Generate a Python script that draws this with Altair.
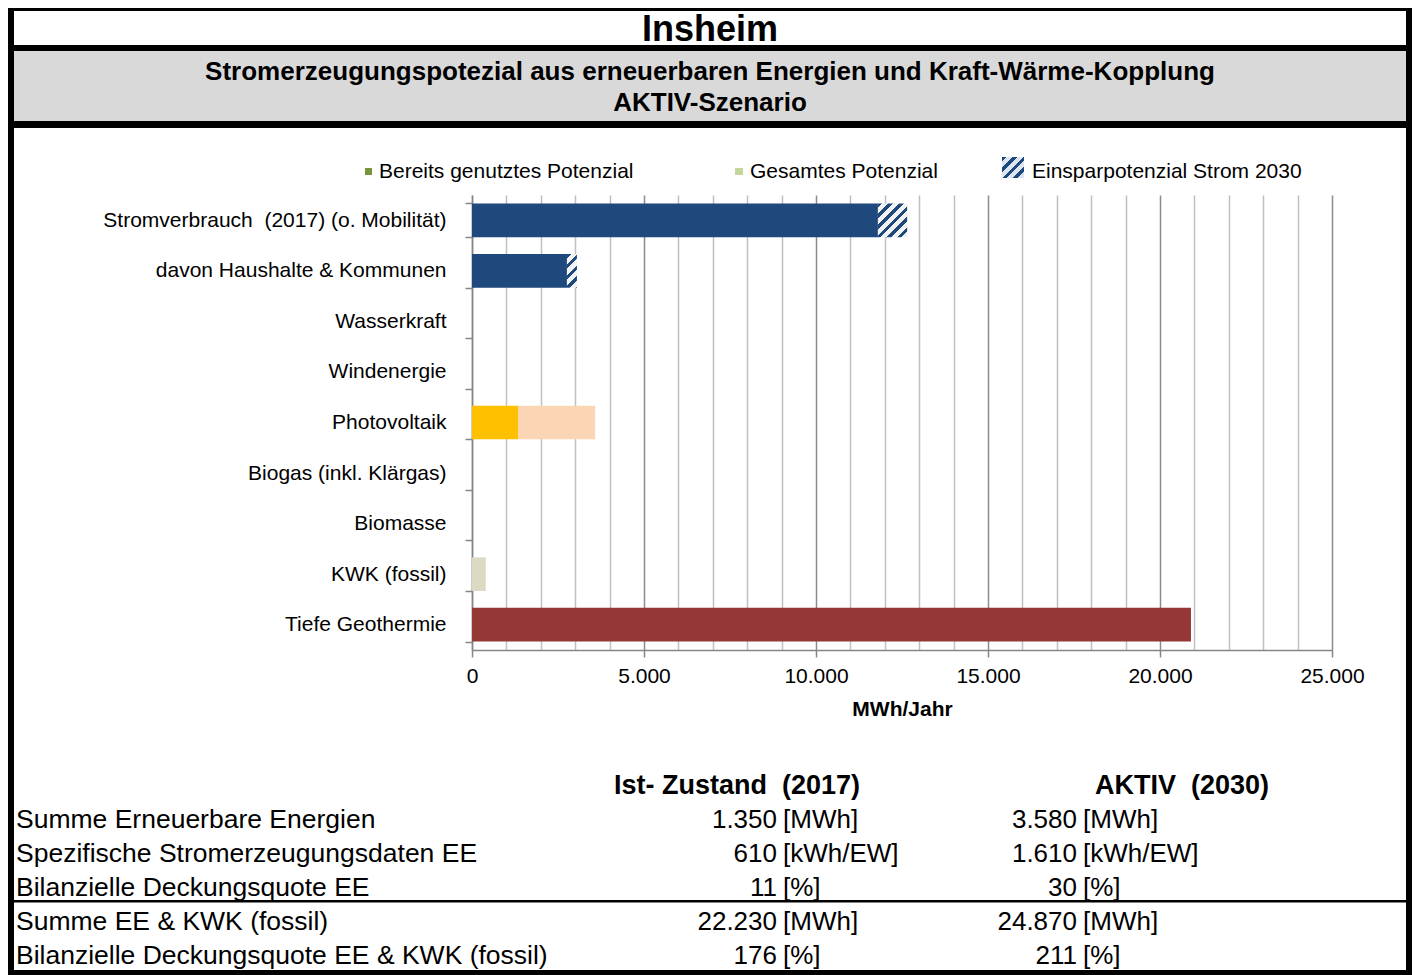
import altair as alt
import pandas as pd

# ---------------- data ----------------
TITLE = "Insheim"
SUBTITLE = ["Stromerzeugungspotezial aus erneuerbaren Energien und Kraft-Wärme-Kopplung", "AKTIV-Szenario"]

CATEGORIES = ["Stromverbrauch\u00a0 (2017) (o. Mobilität)", "davon Haushalte & Kommunen", "Wasserkraft",
              "Windenergie", "Photovoltaik", "Biogas (inkl. Klärgas)", "Biomasse", "KWK (fossil)",
              "Tiefe Geothermie"]
USED_VALUES = [11800, 2760, 0, 0, 1350, 0, 0, 400, 20900]
TOTAL_VALUES = [12650, 3050, 0, 0, 3580, 0, 0, 400, 20900]
USED_COLORS = ["#1F497D", "#1F497D", "#1F497D", "#1F497D", "#FFC000", "#9BBB59", "#9BBB59", "#DDD9C3", "#953735"]
EXTRA_COLORS = ["hatch", "hatch", None, None, "#FCD5B5", None, None, None, None]

LEGEND_LABELS = ["Bereits genutztes Potenzial", "Gesamtes Potenzial", "Einsparpotenzial Strom 2030"]
LEGEND_COLORS = ["#77933C", "#C3D69B"]

X_TICKS = list(range(0, 25001, 1000))
X_TITLE = "MWh/Jahr"

TABLE_HEADERS = ["Ist- Zustand\u00a0 (2017)", "AKTIV\u00a0 (2030)"]
TABLE_ROWS = ["Summe Erneuerbare Energien", "Spezifische Stromerzeugungsdaten EE", "Bilanzielle Deckungsquote EE",
              "Summe EE & KWK (fossil)", "Bilanzielle Deckungsquote EE & KWK (fossil)"]
IST_VALUES = [1350, 610, 11, 22230, 176]
AKTIV_VALUES = [3580, 1610, 30, 24870, 211]
UNITS = ["[MWh]", "[kWh/EW]", "[%]", "[MWh]", "[%]"]

# ---------------- layout ----------------
F = "Liberation Sans"
PW, PH = 860, 455          # plot area
OX, OY = 472, 195          # plot origin on the page
PAD = {"left": OX - 8, "top": OY - 8, "right": 1404 - (OX - 8) - PW, "bottom": 967 - (OY - 8) - PH}
BLUE = "#1F497D"
PAD_INNER = 0.333


def X(px):
    return px - OX


def Y(py):
    return py - OY


ONE = pd.DataFrame({"k": [0]})


def hatch_gradient(w, h, period=7.5, frac=0.42, fg=BLUE, bg="#F2F2F2"):
    lam = (w + h) / (w * w + h * h)
    n = (w + h) / (period * 2 ** 0.5)
    stops = []
    k = 0
    while k < n:
        a = k / n
        b = min((k + frac) / n, 1.0)
        c = min((k + 1) / n, 1.0)
        stops += [{"offset": round(a, 4), "color": fg}, {"offset": round(b, 4), "color": fg},
                  {"offset": round(b, 4), "color": bg}, {"offset": round(c, 4), "color": bg}]
        k += 1
    return {"gradient": "linear", "x1": 0, "y1": 0, "x2": round(lam * w, 4), "y2": round(lam * h, 4),
            "stops": stops}


def box(x1, y1, x2, y2, color):
    return alt.Chart(ONE).mark_rect(color=color).encode(
        x=alt.value(X(x1)), x2=alt.value(X(x2)), y=alt.value(Y(y1)), y2=alt.value(Y(y2)))


def label(text, px, py, size, weight="normal", align="left", baseline="alphabetic"):
    return alt.Chart(ONE).mark_text(text=text, font=F, fontSize=size, fontWeight=weight, align=align,
                                    baseline=baseline, color="black").encode(
        x=alt.value(X(px)), y=alt.value(Y(py)))


# ---------------- bar chart ----------------
Y_AXIS = alt.Axis(title=None, labelFont=F, labelFontSize=21, labelColor="black", labelPadding=19,
                  labelLimit=700, tickBand="extent", tickSize=7, tickColor="#868686", tickWidth=1.5,
                  domainColor="#868686", domainWidth=1.5, grid=False)
X_AXIS = alt.Axis(values=X_TICKS, title=X_TITLE, titleFont=F, titleFontSize=21, titleFontWeight="bold",
                  titleColor="black", titlePadding=12,
                  labelFont=F, labelFontSize=21, labelColor="black", labelPadding=8, labelFlush=False,
                  labelOverlap=False,
                  labelExpr="datum.value % 5000 === 0 ? replace(format(datum.value, ','), ',', '.') : ''",
                  grid=True, gridWidth=1.5,
                  gridColor={"condition": {"test": "datum.value % 5000 === 0", "value": "#8C8C8C"},
                             "value": "#C0C0C0"},
                  tickSize={"condition": {"test": "datum.value % 5000 === 0", "value": 7}, "value": 0},
                  tickColor="#868686", tickWidth=1.5, domainColor="#868686", domainWidth=1.5)

Y_ENC = alt.Y("cat:N", scale=alt.Scale(domain=CATEGORIES, paddingInner=PAD_INNER, paddingOuter=PAD_INNER / 2),
              axis=Y_AXIS)
X_ENC = alt.X("x0:Q", scale=alt.Scale(domain=[0, 25000], nice=False, zero=True), axis=X_AXIS)

segs = []
for c, u, t, uc, ec in zip(CATEGORIES, USED_VALUES, TOTAL_VALUES, USED_COLORS, EXTRA_COLORS):
    if u > 0:
        segs.append({"cat": c, "x0": 0, "x1": u, "color": uc})
    if ec is not None and ec != "hatch" and t > u:
        segs.append({"cat": c, "x0": u, "x1": t, "color": ec})
seg_df = pd.DataFrame(segs)

base_bars = alt.Chart(seg_df).mark_bar().encode(
    y=Y_ENC, x=X_ENC, x2="x1:Q", color=alt.Color("color:N", scale=None))

bar_layers = [base_bars]
band_h = PH / len(CATEGORIES) * (1 - PAD_INNER)
for c, u, t, ec in zip(CATEGORIES, USED_VALUES, TOTAL_VALUES, EXTRA_COLORS):
    if ec == "hatch" and t > u:
        w = (t - u) * PW / 25000
        hdf = pd.DataFrame({"cat": [c], "x0": [u], "x1": [t]})
        bar_layers.append(alt.Chart(hdf).mark_bar(fill=hatch_gradient(w, band_h)).encode(
            y=Y_ENC, x=X_ENC, x2="x1:Q"))
bars = alt.layer(*bar_layers)

# ---------------- table ----------------
tdf = pd.DataFrame({"row": list(range(len(TABLE_ROWS))), "label": TABLE_ROWS, "ist": IST_VALUES,
                    "aktiv": AKTIV_VALUES, "unit": UNITS})
ROW_Y = alt.Y("row:Q", scale=alt.Scale(domain=[0, len(TABLE_ROWS) - 1], range=[Y(820), Y(956)]), axis=None)
tbase = alt.Chart(tdf).transform_calculate(
    ist_s="replace(format(datum.ist, ','), ',', '.')",
    aktiv_s="replace(format(datum.aktiv, ','), ',', '.')")
TFS = 26


def tcol(field, px, align, size=TFS):
    return tbase.mark_text(font=F, fontSize=size, align=align, baseline="middle", color="black").encode(
        y=ROW_Y, x=alt.value(X(px)), text=alt.Text(field + ":N"))


table = [tcol("label", 16, "left", 26.5), tcol("ist_s", 777, "right"), tcol("unit", 783, "left"),
         tcol("aktiv_s", 1077, "right"), tcol("unit", 1083, "left")]

# ---------------- decorations ----------------
decor = [
    box(14, 51, 1406, 121, "#D9D9D9"),
    box(8, 8, 1412, 11, "black"),
    box(8, 45, 1412, 51, "black"),
    box(8, 121, 1412, 128, "black"),
    box(8, 8, 14, 975, "black"),
    box(1406, 8, 1412, 975, "black"),
    box(8, 970, 1412, 975, "black"),
    box(14, 900, 1406, 902.5, "black"),
    label(TITLE, 710, 41, 36, "bold", "center"),
    label(SUBTITLE[0], 710, 80, 26, "bold", "center"),
    label(SUBTITLE[1], 710, 111, 26, "bold", "center"),
    # legend
    box(365, 168, 372, 175, LEGEND_COLORS[0]),
    label(LEGEND_LABELS[0], 379, 172, 21, baseline="middle"),
    box(735, 168, 743, 175, LEGEND_COLORS[1]),
    label(LEGEND_LABELS[1], 750, 172, 21, baseline="middle"),
    alt.Chart(ONE).mark_rect(fill=hatch_gradient(22, 21, bg="#DCE6F2")).encode(
        x=alt.value(X(1002)), x2=alt.value(X(1024)), y=alt.value(Y(157)), y2=alt.value(Y(178))),
    label(LEGEND_LABELS[2], 1032, 172, 21, baseline="middle"),
    # table headers
    label(TABLE_HEADERS[0], 737, 786, 27, "bold", "center", "middle"),
    label(TABLE_HEADERS[1], 1182, 786, 27, "bold", "center", "middle"),
]

chart = alt.layer(bars, *table, *decor).resolve_scale(y="independent").properties(
    width=PW, height=PH, padding=PAD, autosize=alt.AutoSizeParams(type="none"),
    background="white").configure_view(stroke=None)

chart.save("out.html", embed_options={"renderer": "svg", "actions": False})
